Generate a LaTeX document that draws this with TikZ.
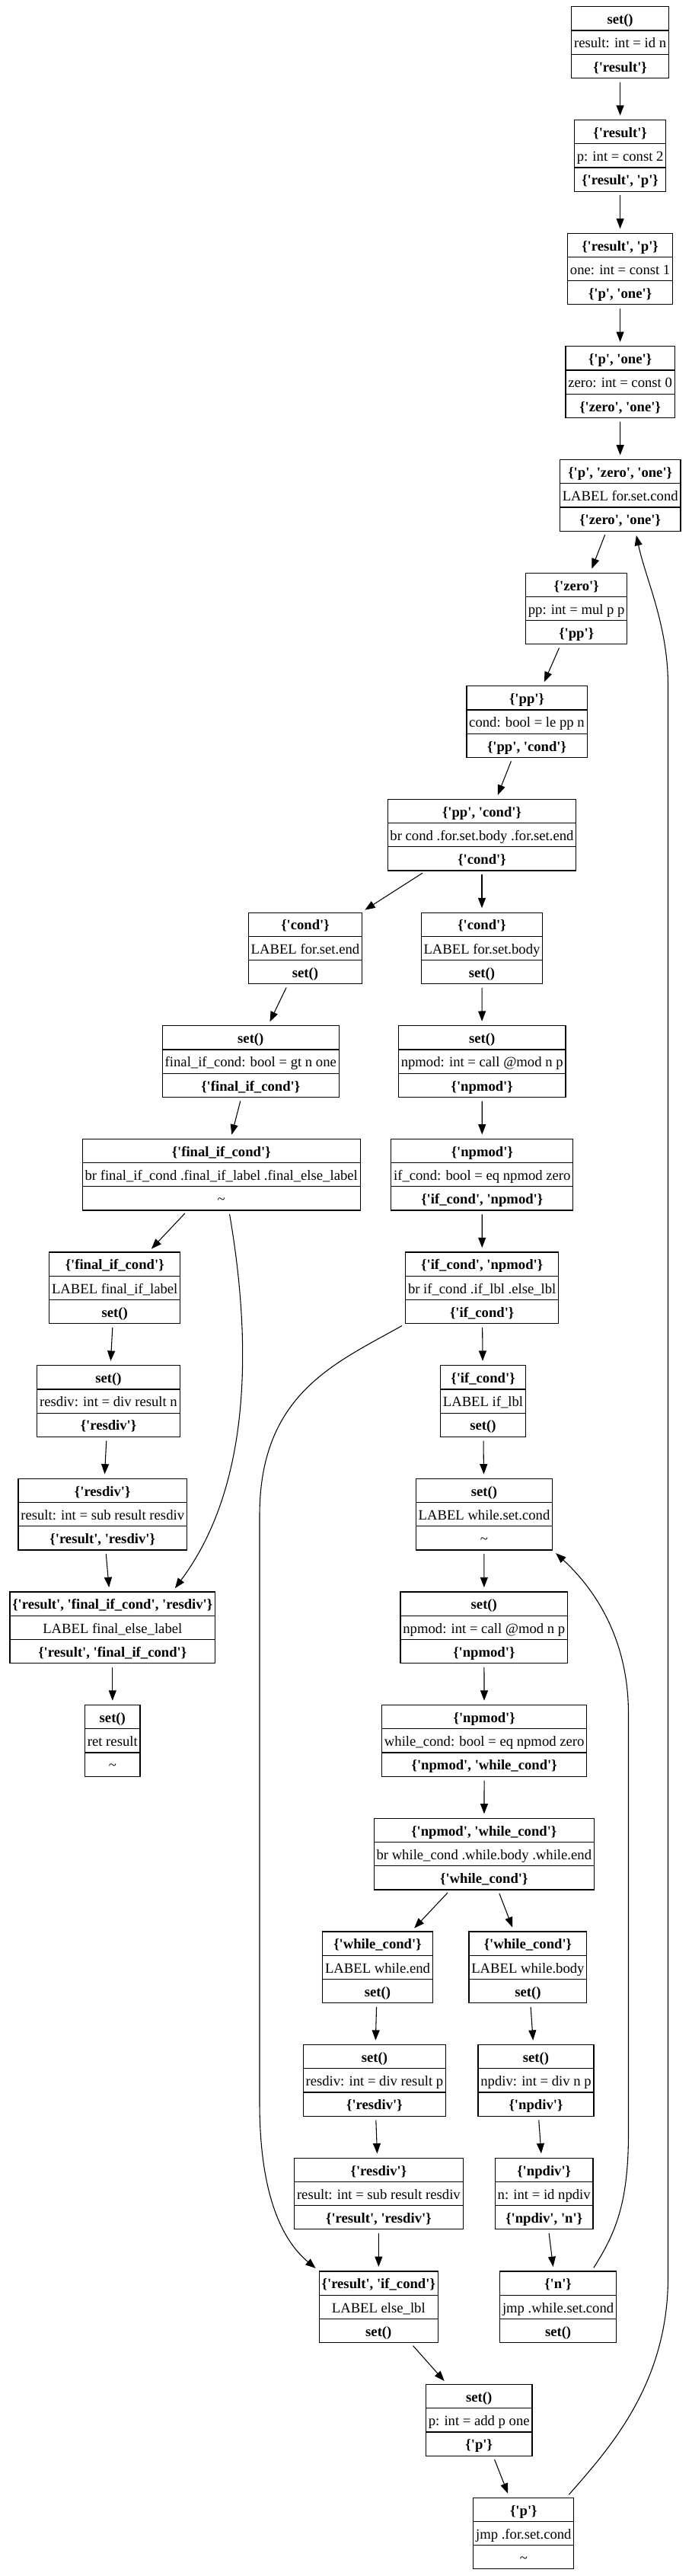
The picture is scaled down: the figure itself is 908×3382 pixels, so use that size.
\documentclass[tikz,border=0pt]{standalone}
\usepackage{fontspec}
\newfontfamily\gvfont{Liberation Serif}
\usetikzlibrary{shapes.multipart,arrows.meta}
\newcommand{\rowstrut}{\rule[-5.8pt]{0pt}{22.5pt}}
\newcommand{\trio}[3]{\rowstrut\textbf{#1}\nodepart{two}\rowstrut#2\nodepart{three}\rowstrut\textbf{#3}}
\begin{document}
\begin{tikzpicture}[x=0.75pt, y=-0.75pt, >={Triangle[length=10pt,width=7.5pt]}]
\tikzstyle{block} = [rectangle split, rectangle split parts=3, draw, line width=0.9pt, inner xsep=2.5pt, inner ysep=0pt, font=\gvfont\fontsize{14pt}{16pt}\selectfont]
\tikzstyle{flow} = [line width=0.8pt, ->, shorten <=3.5pt, shorten >=4pt]
\useasboundingbox (0,0) rectangle (908,3382);
\node[block] at (814.6,55.7) (i0){\trio{set()}{result: int = id n}{\{'result'\}}};
\node[block] at (814.6,204.35) (i1){\trio{\{'result'\}}{p: int = const 2}{\{'result', 'p'\}}};
\node[block] at (814.6,353.0) (i2){\trio{\{'result', 'p'\}}{one: int = const 1}{\{'p', 'one'\}}};
\node[block] at (814.6,501.65) (i3){\trio{\{'p', 'one'\}}{zero: int = const 0}{\{'zero', 'one'\}}};
\node[block] at (814.7,650.3) (i4){\trio{\{'p', 'zero', 'one'\}}{LABEL for.set.cond}{\{'zero', 'one'\}}};
\node[block] at (757.2,798.95) (i5){\trio{\{'zero'\}}{pp: int = mul p p}{\{'pp'\}}};
\node[block] at (692,947.6) (i6){\trio{\{'pp'\}}{cond: bool = le pp n}{\{'pp', 'cond'\}}};
\node[block] at (633,1096.25) (i7){\trio{\{'pp', 'cond'\}}{br cond .for.set.body .for.set.end}{\{'cond'\}}};
\node[block] at (401,1244.9) (i8_0){\trio{\{'cond'\}}{LABEL for.set.end}{set()}};
\node[block] at (633,1244.9) (i8_1){\trio{\{'cond'\}}{LABEL for.set.body}{set()}};
\node[block] at (329.3,1393.55) (i9_0){\trio{set()}{final\_if\_cond: bool = gt n one}{\{'final\_if\_cond'\}}};
\node[block] at (633.2,1393.55) (i9_1){\trio{set()}{npmod: int = call @mod n p}{\{'npmod'\}}};
\node[block] at (290.7,1542.2) (i10_0){\trio{\{'final\_if\_cond'\}}{br final\_if\_cond .final\_if\_label .final\_else\_label}{\textmd{\textasciitilde}}};
\node[block] at (633.3,1542.2) (i10_1){\trio{\{'npmod'\}}{if\_cond: bool = eq npmod zero}{\{'if\_cond', 'npmod'\}}};
\node[block] at (150.7,1690.85) (i11_0){\trio{\{'final\_if\_cond'\}}{LABEL final\_if\_label}{set()}};
\node[block] at (633.2,1690.85) (i11_1){\trio{\{'if\_cond', 'npmod'\}}{br if\_cond .if\_lbl .else\_lbl}{\{'if\_cond'\}}};
\node[block] at (142.5,1839.5) (i12_0){\trio{set()}{resdiv: int = div result n}{\{'resdiv'\}}};
\node[block] at (634.5,1839.5) (i12_1){\trio{\{'if\_cond'\}}{LABEL if\_lbl}{set()}};
\node[block] at (134.7,1988.15) (i13_0){\trio{\{'resdiv'\}}{result: int = sub result resdiv}{\{'result', 'resdiv'\}}};
\node[block] at (636,1988.15) (i13_1){\trio{set()}{LABEL while.set.cond}{\textmd{\textasciitilde}}};
\node[block] at (147.8,2136.8) (i14_0){\trio{\{'result', 'final\_if\_cond', 'resdiv'\}}{LABEL final\_else\_label}{\{'result', 'final\_if\_cond'\}}};
\node[block] at (635.8,2136.8) (i14_1){\trio{set()}{npmod: int = call @mod n p}{\{'npmod'\}}};
\node[block] at (147.8,2285.45) (i15_0){\trio{set()}{ret result}{\textmd{\textasciitilde}}};
\node[block] at (636.2,2285.45) (i15_1){\trio{\{'npmod'\}}{while\_cond: bool = eq npmod zero}{\{'npmod', 'while\_cond'\}}};
\node[block] at (635.8,2434.1) (i16){\trio{\{'npmod', 'while\_cond'\}}{br while\_cond .while.body .while.end}{\{'while\_cond'\}}};
\node[block] at (496,2582.75) (i17_0){\trio{\{'while\_cond'\}}{LABEL while.end}{set()}};
\node[block] at (693.4,2582.75) (i17_1){\trio{\{'while\_cond'\}}{LABEL while.body}{set()}};
\node[block] at (491.9,2731.4) (i18_0){\trio{set()}{resdiv: int = div result p}{\{'resdiv'\}}};
\node[block] at (704,2731.4) (i18_1){\trio{set()}{npdiv: int = div n p}{\{'npdiv'\}}};
\node[block] at (497.4,2880.05) (i19_0){\trio{\{'resdiv'\}}{result: int = sub result resdiv}{\{'result', 'resdiv'\}}};
\node[block] at (714.7,2880.05) (i19_1){\trio{\{'npdiv'\}}{n: int = id npdiv}{\{'npdiv', 'n'\}}};
\node[block] at (497.3,3028.7) (i20_0){\trio{\{'result', 'if\_cond'\}}{LABEL else\_lbl}{set()}};
\node[block] at (733.1,3028.7) (i20_1){\trio{\{'n'\}}{jmp .while.set.cond}{set()}};
\node[block] at (629.2,3177.35) (i21){\trio{set()}{p: int = add p one}{\{'p'\}}};
\node[block] at (687.8,3326) (i22){\trio{\{'p'\}}{jmp .for.set.cond}{\textmd{\textasciitilde}}};
\draw[flow] (i0) -- (i1);
\draw[flow] (i1) -- (i2);
\draw[flow] (i2) -- (i3);
\draw[flow] (i3) -- (i4);
\draw[flow] (i4) -- (i5);
\draw[flow] (i5) -- (i6);
\draw[flow] (i6) -- (i7);
\draw[flow] (i7) -- (i8_0);
\draw[flow] (i7) -- (i8_1);
\draw[flow] (i8_0) -- (i9_0);
\draw[flow] (i8_1) -- (i9_1);
\draw[flow] (i9_0) -- (i10_0);
\draw[flow] (i9_1) -- (i10_1);
\draw[flow] (i10_0) -- (i11_0);
\draw[flow] (i10_1) -- (i11_1);
\draw[flow] (i11_0) -- (i12_0);
\draw[flow] (i11_1) -- (i12_1);
\draw[flow] (i12_0) -- (i13_0);
\draw[flow] (i12_1) -- (i13_1);
\draw[flow] (i13_0) -- (i14_0);
\draw[flow] (i13_1) -- (i14_1);
\draw[flow] (i14_0) -- (i15_0);
\draw[flow] (i14_1) -- (i15_1);
\draw[flow] (i15_1) -- (i16);
\draw[flow] (i16) -- (i17_0);
\draw[flow] (i16) -- (i17_1);
\draw[flow] (i17_0) -- (i18_0);
\draw[flow] (i17_1) -- (i18_1);
\draw[flow] (i18_0) -- (i19_0);
\draw[flow] (i18_1) -- (i19_1);
\draw[flow] (i19_0) -- (i20_0);
\draw[flow] (i19_1) -- (i20_1);
\draw[flow] (i20_0) -- (i21);
\draw[flow] (i21) -- (i22);
% branches that skip down
\draw[flow] (i10_0.-78) .. controls (325,1730) and (340,1938) .. (i14_0.31);
\draw[flow] (i11_1.south west) .. controls (440,1790) and (341,1830) .. (341,1990) -- (341,2760) .. controls (341,2890) and (375,2945) .. (i20_0.north west);
% loops back up
\draw[flow] (i20_1.47) .. controls (810,2930) and (825.5,2890) .. (825.5,2800) -- (825.5,2250) .. controls (825.5,2150) and (780,2085) .. (i13_1.south east);
\draw[flow] (i22.40) .. controls (800,3215) and (877.5,3130) .. (877.5,2990) -- (877.5,900) .. controls (877.5,820) and (848,760) .. (i4.-67);
\end{tikzpicture}
\end{document}
